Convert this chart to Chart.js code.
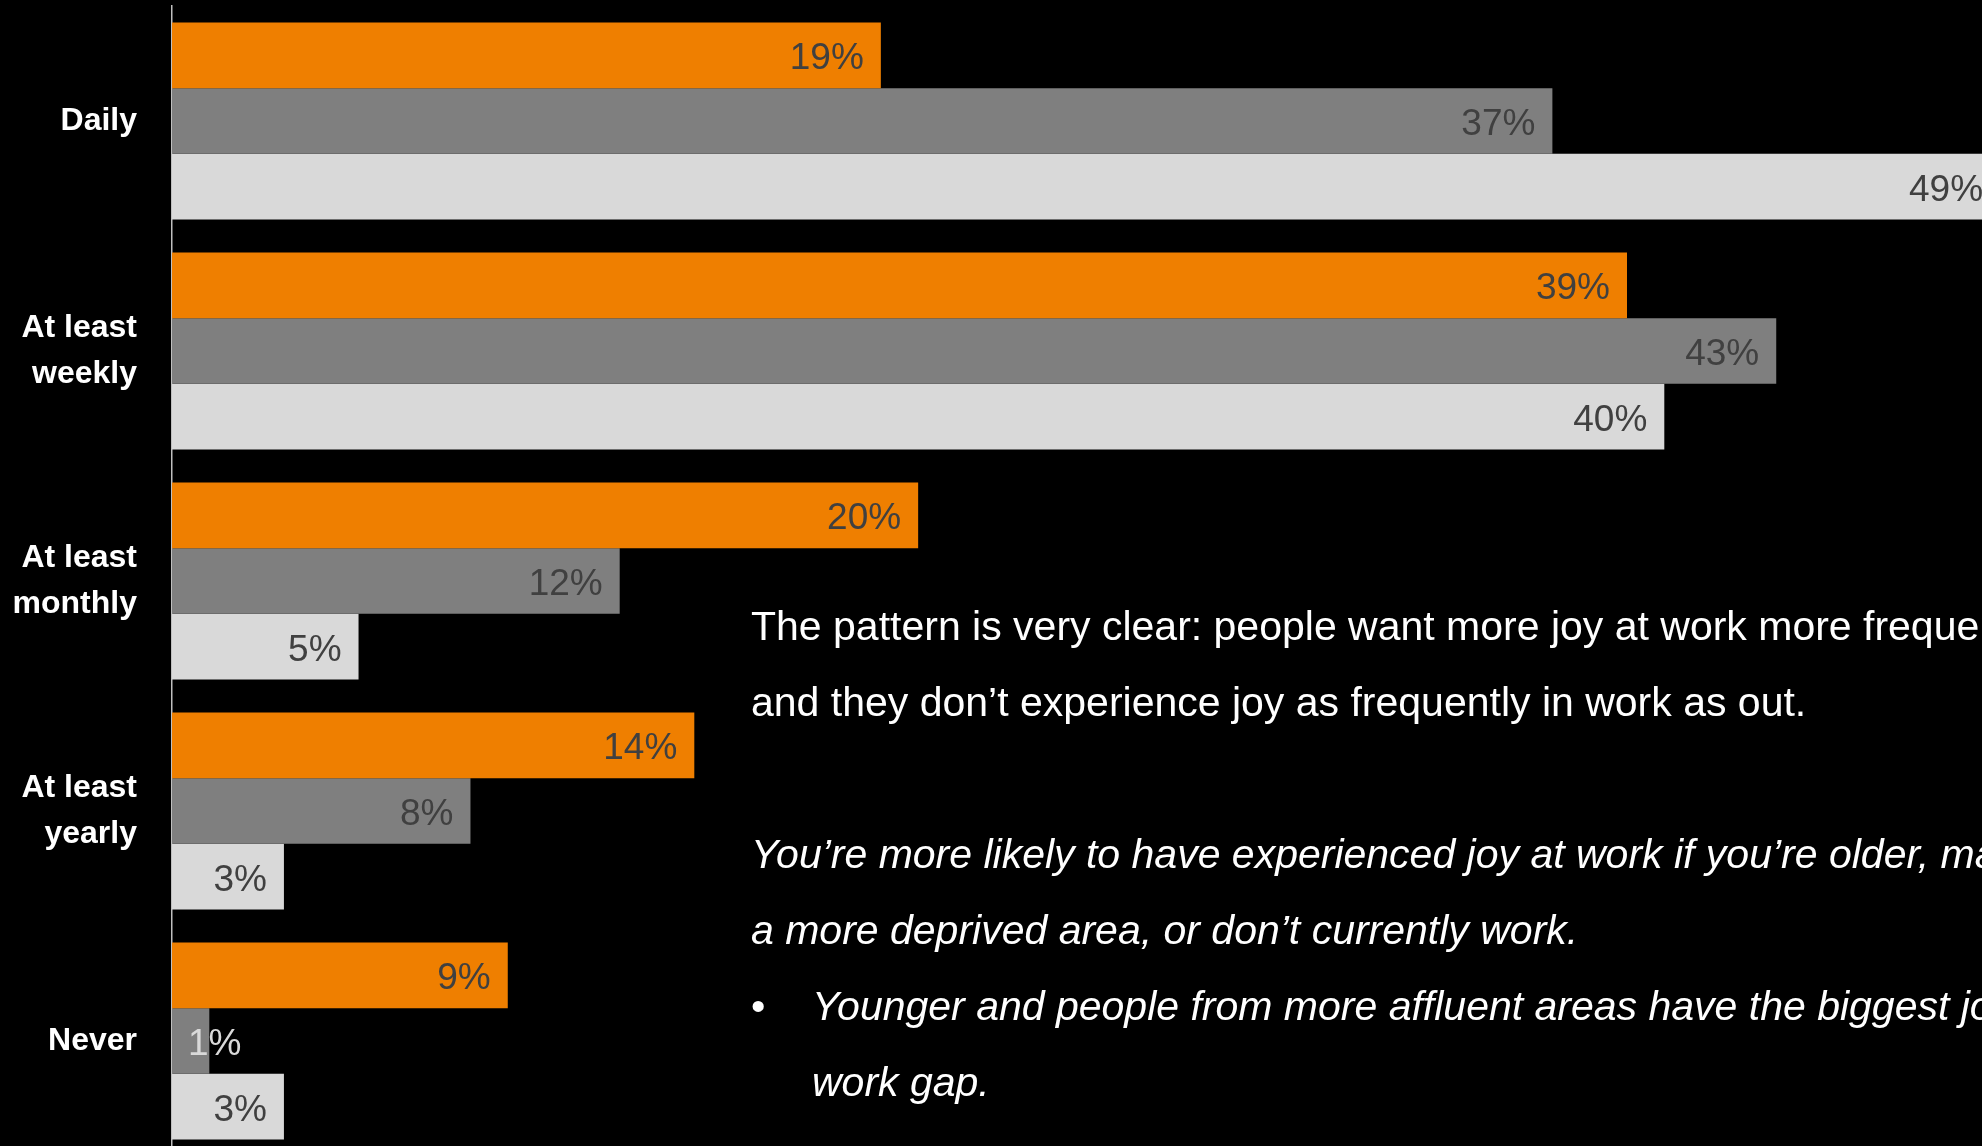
<!DOCTYPE html>
<html lang="en">
<head>
<meta charset="utf-8">
<title>Joy at work</title>
<script src="https://cdn.jsdelivr.net/npm/chart.js@4.4.0/dist/chart.umd.min.js"></script>
<style>
    html, body { margin: 0; padding: 0; background: #000; }
    body { width: 1982px; height: 1146px; overflow: hidden; position: relative; }
    #joyChart { position: absolute; left: 0; top: 0; }
    .notes {
        position: absolute; left: 751px; top: 588px;
        color: #fff; font-family: "Liberation Sans", Arial, sans-serif;
        font-size: 41px; line-height: 76px; white-space: nowrap;
    }
    .notes p { margin: 0 0 76px 0; }
    .notes p.lead { font-style: italic; margin: 0; }
    .notes ul { list-style: none; margin: 0; padding: 0 0 0 61px; font-style: italic; }
    .notes li { position: relative; }
    .notes li::before { content: "•"; position: absolute; left: -61px; font-style: normal; }
</style>
</head>
<body>
<canvas id="joyChart" width="2112" height="1156"></canvas>

<div class="notes">
    <p>The pattern is very clear: people want more joy at work more frequently,<br>and they don’t experience joy as frequently in work as out.</p>
    <p class="lead">You’re more likely to have experienced joy at work if you’re older, male, live in<br>a more deprived area, or don’t currently work.</p>
    <ul>
        <li>Younger and people from more affluent areas have the biggest joy in/out of<br>work gap.</li>
    </ul>
</div>

<script>
// How often people feel joy, in %
const categories = ['Daily', ['At least', 'weekly'], ['At least', 'monthly'], ['At least', 'yearly'], 'Never'];
const seriesNames = ['Joy at work', 'Joy outside work', 'Want joy at work'];
const joyAtWork = [19, 39, 20, 14, 9];
const joyOutsideWork = [37, 43, 12, 8, 1];
const wantJoyAtWork = [49, 40, 5, 3, 3];

const colors = ['#ef7f00', '#7f7f7f', '#d9d9d9'];

// percent labels at the inner end of each bar, outside if the bar is too short
const valueLabels = {
    id: 'valueLabels',
    afterDatasetsDraw(chart) {
        const ctx = chart.ctx;
        ctx.save();
        ctx.font = '37px "Liberation Sans", Arial, sans-serif';
        ctx.textBaseline = 'middle';
        chart.data.datasets.forEach((ds, i) => {
            chart.getDatasetMeta(i).data.forEach((bar, j) => {
                const text = ds.data[j] + '%';
                const w = ctx.measureText(text).width;
                if (bar.x - bar.base > w + 24) {
                    ctx.textAlign = 'right';
                    ctx.fillStyle = '#404040';
                    ctx.fillText(text, bar.x - 17, bar.y + 4);
                } else {
                    ctx.textAlign = 'left';
                    ctx.fillStyle = '#d9d9d9';
                    ctx.fillText(text, bar.base + 16, bar.y + 4);
                }
            });
        });
        ctx.restore();
    }
};

const ctx = document.getElementById('joyChart');
new Chart(ctx, {
    type: 'bar',
    data: {
        labels: categories,
        datasets: [joyAtWork, joyOutsideWork, wantJoyAtWork].map((data, i) => ({
            label: seriesNames[i],
            data: data,
            backgroundColor: colors[i],
            borderWidth: 0,
            barPercentage: 1,
            categoryPercentage: 0.857
        }))
    },
    options: {
        indexAxis: 'y',
        responsive: false,
        animation: false,
        layout: { padding: { top: 6, right: 0, bottom: 0, left: 0 } },
        plugins: {
            legend: { display: false },
            tooltip: { enabled: false }
        },
        scales: {
            x: { min: 0, max: 52, display: false },
            y: {
                afterFit(scale) {
                    // fixed gutter for the category names, no extra room above/below
                    scale.width = 172;
                    scale.paddingTop = 0;
                    scale.paddingBottom = 0;
                },
                grid: { display: false, drawTicks: false, tickLength: 0 },
                border: { display: true, color: '#bfbfbf', width: 1.5 },
                ticks: {
                    color: '#ffffff',
                    padding: 35,
                    font: { family: '"Liberation Sans", Arial, sans-serif', size: 32, weight: 'bold', lineHeight: 1.42 }
                }
            }
        }
    },
    plugins: [valueLabels]
});
</script>
</body>
</html>
